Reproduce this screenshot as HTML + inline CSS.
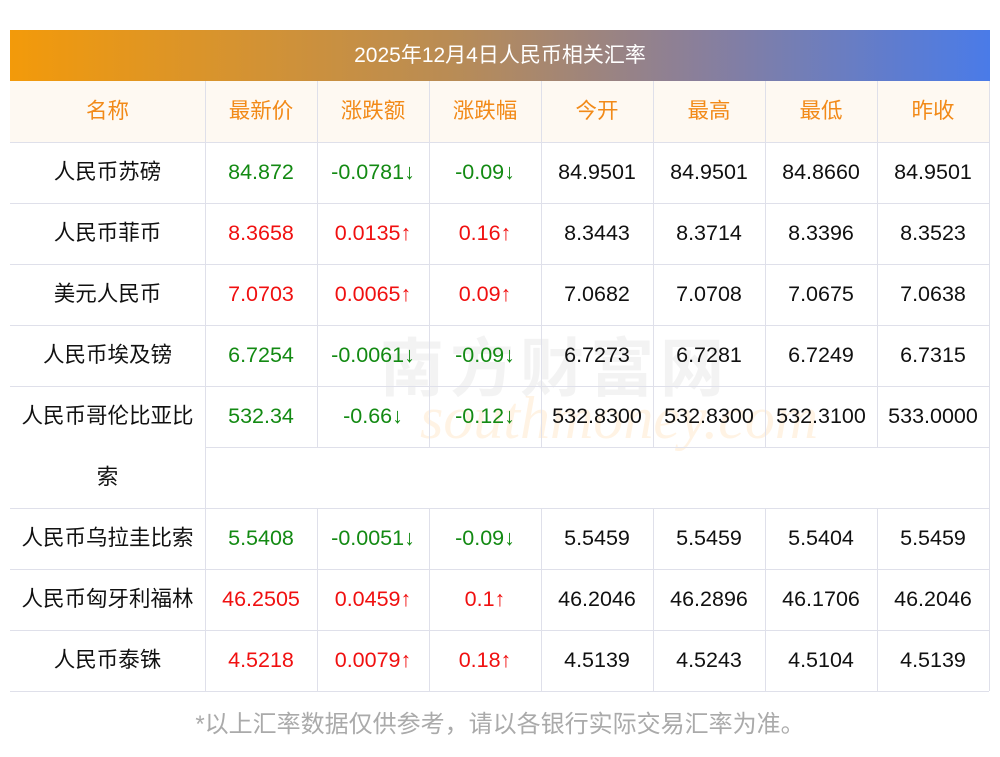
<!DOCTYPE html>
<html><head><meta charset="utf-8"><style>
body{margin:0;width:1000px;height:757px;background:#fff;position:relative;font-family:"Liberation Sans","Noto Sans CJK SC",sans-serif;overflow:hidden}
.t{position:absolute;left:10px;top:30px;width:980px;height:51px;background:linear-gradient(90deg,#f39a0a,#b98c55 45%,#8a7f9a 70%,#4a7be8);color:#fff;font-size:21px;line-height:51px;text-align:center}
.c{position:absolute;height:61px;line-height:60px;text-align:center;font-size:21.5px;color:#111;box-sizing:border-box;white-space:nowrap}
.h{color:#f28a18;background:#fef9f2}
.g{color:#138a13}.r{color:#f01010}
.hl{position:absolute;left:10px;width:979px;height:1px;background:#dfe0ea}
.vl{position:absolute;width:1px;background:#dfe0ea}
.f{position:absolute;top:707px;left:0;width:1000px;text-align:center;font-size:24px;color:#aaa;line-height:36px}
.wm{position:absolute;left:380px;top:318px;font-size:64px;color:rgba(200,200,200,0.22);font-weight:bold;letter-spacing:6px}
.wm2{position:absolute;left:420px;top:384px;font-size:60px;color:rgba(255,200,130,0.22);font-style:italic;font-family:"Liberation Serif",serif}
</style></head><body>
<div class="t">2025年12月4日人民币相关汇率</div>
<div class="wm">南方财富网</div>
<div class="wm2">southmoney.com</div>
<div id="g"></div>
<div class="f">*以上汇率数据仅供参考，请以各银行实际交易汇率为准。</div>
<script>
var xs=[10,205,317,429,541,653,765,877,989];
var rows=[
["名称","最新价","涨跌额","涨跌幅","今开","最高","最低","昨收"],
["人民币苏磅","84.872","-0.0781↓","-0.09↓","84.9501","84.9501","84.8660","84.9501"],
["人民币菲币","8.3658","0.0135↑","0.16↑","8.3443","8.3714","8.3396","8.3523"],
["美元人民币","7.0703","0.0065↑","0.09↑","7.0682","7.0708","7.0675","7.0638"],
["人民币埃及镑","6.7254","-0.0061↓","-0.09↓","6.7273","6.7281","6.7249","6.7315"],
["人民币哥伦比亚比","532.34","-0.66↓","-0.12↓","532.8300","532.8300","532.3100","533.0000"],
["人民币乌拉圭比索","5.5408","-0.0051↓","-0.09↓","5.5459","5.5459","5.5404","5.5459"],
["人民币匈牙利福林","46.2505","0.0459↑","0.1↑","46.2046","46.2896","46.1706","46.2046"],
["人民币泰铢","4.5218","0.0079↑","0.18↑","4.5139","4.5243","4.5104","4.5139"]];
var tops=[81,142,203,264,325,386,508,569,630];
var h="";
rows.forEach(function(r,i){
 var y=tops[i];
 r.forEach(function(v,j){
  var cls="c";
  if(i==0)cls+=" h";
  else if(j>=1&&j<=3)cls+=(r[2][0]=="-")?" g":" r";
  h+='<div class="'+cls+'" style="left:'+xs[j]+'px;top:'+y+'px;width:'+(xs[j+1]-xs[j])+'px">'+v+'</div>';
 });
});
h+='<div class="c" style="left:10px;top:447px;width:195px">索</div>';
[142,203,264,325,386,447,508,569,630,691].forEach(function(y){
 var l=(y==447)?205:10,w=(y==447)?784:979;
 h+='<div class="hl" style="top:'+y+'px;left:'+l+'px;width:'+w+'px"></div>';
});
for(var j=1;j<xs.length;j++){
 var x=xs[j];
 if(j==1||j==8){h+='<div class="vl" style="left:'+x+'px;top:81px;height:610px"></div>';}
 else{h+='<div class="vl" style="left:'+x+'px;top:81px;height:366px"></div><div class="vl" style="left:'+x+'px;top:508px;height:183px"></div>';}
}
document.getElementById("g").innerHTML=h;
</script>
</body></html>
